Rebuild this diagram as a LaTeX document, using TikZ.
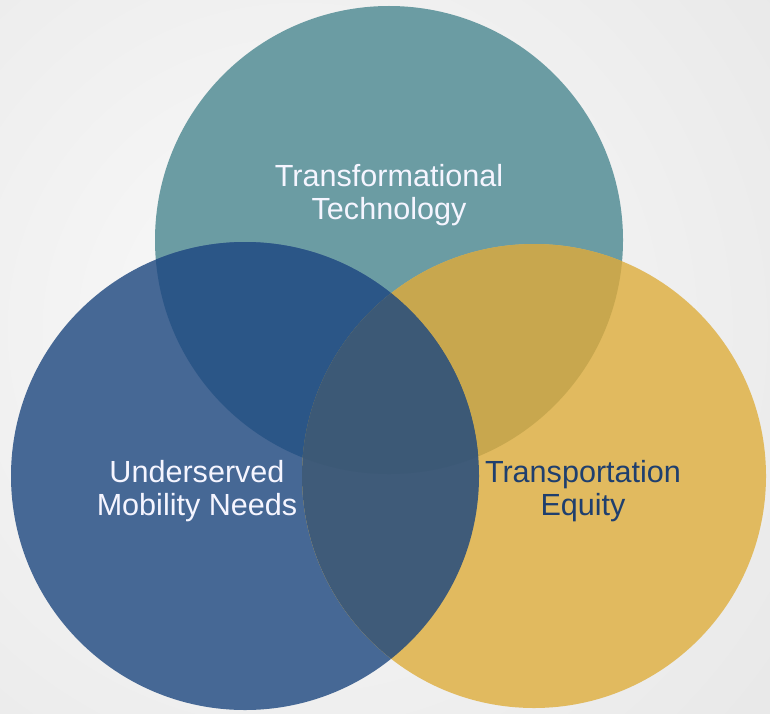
\documentclass[tikz,border=0pt]{standalone}
\usepackage{fontspec}
\setmainfont{Liberation Sans}
\definecolor{techteal}{HTML}{6B9CA3}
\definecolor{needblue}{HTML}{466895}
\definecolor{equitygold}{HTML}{E1BA5F}
\definecolor{techneed}{HTML}{2B5687}
\definecolor{techequity}{HTML}{C8A74E}
\definecolor{needequity}{HTML}{3F5B79}
\definecolor{allthree}{HTML}{3C5976}
\definecolor{labelnavy}{HTML}{1F3F6E}
\tikzset{
	labelstyle/.style={align=center,inner sep=0pt,font=\fontsize{17.4}{18.4}\selectfont},
	lightlabel/.style={labelstyle,text=white!96!blue},
	darklabel/.style={labelstyle,text=labelnavy}
}

\begin{document}
\begin{tikzpicture}[x=0.02cm,y=-0.02cm]
	\useasboundingbox (0,0) rectangle (770,713);
	\begin{scope}
		\clip (0,0) rectangle (770,713);
		\shade[inner color=gray!4,outer color=gray!40] (300,330) circle[radius=1600];
	\end{scope}
	\coordinate (tech) at (389,240);
	\coordinate (need) at (245,476);
	\coordinate (equity) at (534,476);
	\fill[techteal] (tech) circle[radius=234];
	\fill[needblue] (need) circle[radius=234];
	\fill[equitygold] (equity) circle[radius=232];
	\begin{scope}
		\clip (tech) circle[radius=234];
		\fill[techneed] (need) circle[radius=234];
		\fill[techequity] (equity) circle[radius=232];
	\end{scope}
	\begin{scope}
		\clip (need) circle[radius=234];
		\fill[needequity] (equity) circle[radius=232];
		\clip (tech) circle[radius=234];
		\fill[allthree] (equity) circle[radius=232];
	\end{scope}
	\node[lightlabel] (techlabel) at (389,195) {Transformational\\Technology};
	\node[lightlabel] (needlabel) at (197,491) {Underserved\\Mobility Needs};
	\node[darklabel] (equitylabel) at (583,491) {Transportation\\Equity};
\end{tikzpicture}
\end{document}
